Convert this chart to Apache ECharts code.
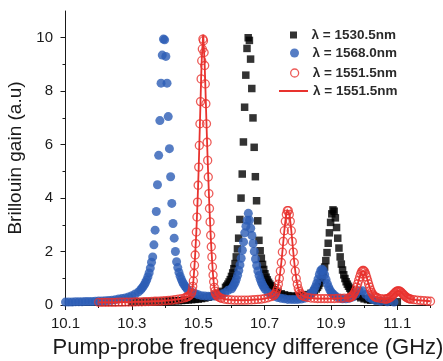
<!DOCTYPE html>
<html>
<head>
<meta charset="utf-8">
<script src="https://cdn.jsdelivr.net/npm/echarts@6/dist/echarts.min.js"></script>
<style>
html,body{margin:0;padding:0;background:#fff;}
#c{width:443px;height:361px;}
</style>
</head>
<body>
<div id="c"></div>
<script>
// ---------- data ----------
const xTicks = [10.1, 10.3, 10.5, 10.7, 10.9, 11.1];
const xMinorTicks = [10.2, 10.4, 10.6, 10.8, 11.0, 11.2];
const yTicks = [0, 2, 4, 6, 8, 10];
const yMinorTicks = [1, 3, 5, 7, 9];

const seriesNames = ['λ = 1530.5nm', 'λ = 1568.0nm', 'λ = 1551.5nm', 'λ = 1551.5nm '];

// λ = 1530.5 nm (black squares)
const blackX = [10.30, 10.32, 10.34, 10.36, 10.38, 10.40, 10.41, 10.42, 10.43, 10.44, 10.45, 10.46, 10.47, 10.48, 10.49, 10.50, 10.51, 10.52, 10.53, 10.54, 10.55, 10.56, 10.57,
 10.5822, 10.5858, 10.5894, 10.5930, 10.5966, 10.6002, 10.6038, 10.6074, 10.6110, 10.6146, 10.6182, 10.6218, 10.6254, 10.6290, 10.6326, 10.6362, 10.6398, 10.6434, 10.6470, 10.6506,
 10.6542, 10.6578, 10.6614, 10.6650, 10.6686, 10.6722, 10.6758, 10.6794, 10.6830, 10.6866, 10.6902, 10.6938, 10.6974, 10.7010, 10.7046, 10.7082, 10.7118, 10.7154, 10.7190, 10.7226,
 10.73, 10.74, 10.75, 10.76, 10.77, 10.78, 10.79, 10.80, 10.81, 10.82, 10.83, 10.84, 10.85,
 10.8557, 10.8593, 10.8629, 10.8665, 10.8701, 10.8737, 10.8773, 10.8809, 10.8845, 10.8881, 10.8917, 10.8953, 10.8989, 10.9025, 10.9061,
 10.9097, 10.9133, 10.9169, 10.9205, 10.9241, 10.9277, 10.9313, 10.9349, 10.9385, 10.9421, 10.9457, 10.9493, 10.9529, 10.9565, 10.9601,
 10.97, 10.98, 10.99, 11.00, 11.01, 11.02, 11.04, 11.06, 11.08, 11.10];
const blackY = [0.12, 0.12, 0.13, 0.13, 0.14, 0.14, 0.15, 0.15, 0.16, 0.16, 0.17, 0.18, 0.19, 0.20, 0.21, 0.22, 0.24, 0.26, 0.29, 0.32, 0.37, 0.43, 0.51,
 0.66, 0.71, 0.78, 0.86, 0.95, 1.07, 1.20, 1.36, 1.55, 1.80, 2.10, 2.50, 3.20, 4.00, 4.90, 6.10, 7.40, 8.60, 9.60, 10.00,
 9.90, 9.20, 8.10, 7.00, 5.90, 4.80, 3.90, 3.15, 2.42, 2.03, 1.75, 1.52, 1.33, 1.17, 1.04, 0.94, 0.85, 0.78, 0.72, 0.67,
 0.57, 0.48, 0.42, 0.38, 0.35, 0.33, 0.33, 0.33, 0.33, 0.35, 0.39, 0.44, 0.53,
 0.60, 0.66, 0.73, 0.82, 0.93, 1.06, 1.22, 1.42, 1.66, 1.96, 2.31, 2.70, 3.09, 3.41, 3.56,
 3.51, 3.26, 2.90, 2.50, 2.13, 1.80, 1.53, 1.31, 1.13, 0.99, 0.87, 0.78, 0.70, 0.63, 0.57,
 0.39, 0.32, 0.27, 0.23, 0.20, 0.18, 0.16, 0.14, 0.125, 0.12];

// λ = 1568.0 nm (blue dots)
const blueX = [10.10, 10.11, 10.12, 10.13, 10.14, 10.15, 10.16, 10.17, 10.18, 10.19, 10.20, 10.21, 10.22, 10.23, 10.24, 10.25, 10.26, 10.27, 10.28, 10.29, 10.30, 10.31, 10.32,
 10.3268, 10.3304, 10.3340, 10.3376, 10.3412, 10.3448, 10.3484, 10.3520, 10.3556, 10.3592, 10.3628, 10.3664, 10.3700, 10.3736, 10.3772, 10.3808, 10.3844, 10.3880, 10.3916, 10.3952,
 10.3988, 10.4024, 10.4060, 10.4096, 10.4132, 10.4168, 10.4204, 10.4240, 10.4276, 10.4312, 10.4348, 10.4384, 10.4420, 10.4456, 10.4492, 10.4528, 10.4564, 10.4600, 10.4636, 10.4672,
 10.48, 10.49, 10.50, 10.51, 10.52, 10.53, 10.54, 10.55, 10.56, 10.57, 10.58, 10.59,
 10.6006, 10.6042, 10.6078, 10.6114, 10.6150, 10.6186, 10.6222, 10.6258, 10.6294, 10.6330, 10.6366, 10.6402, 10.6438, 10.6474, 10.6510,
 10.6546, 10.6582, 10.6618, 10.6654, 10.6690, 10.6726, 10.6762, 10.6798, 10.6834, 10.6870, 10.6906, 10.6942, 10.6978, 10.7014,
 10.71, 10.72, 10.73, 10.74, 10.75, 10.76, 10.77, 10.78, 10.79, 10.80, 10.81, 10.82,
 10.833, 10.837, 10.841, 10.845, 10.849, 10.853, 10.857, 10.861, 10.865, 10.869, 10.873,
 10.877, 10.881, 10.885, 10.889, 10.893, 10.897, 10.901, 10.905, 10.909, 10.913,
 10.925, 10.935, 10.945, 10.955, 10.965, 10.975, 10.985, 10.995, 11.005, 11.015, 11.025, 11.035, 11.05, 11.07, 11.09];
const blueY = [0.11, 0.11, 0.11, 0.12, 0.12, 0.12, 0.13, 0.13, 0.13, 0.14, 0.15, 0.15, 0.16, 0.17, 0.18, 0.20, 0.22, 0.24, 0.26, 0.30, 0.35, 0.41, 0.49,
 0.57, 0.63, 0.69, 0.76, 0.84, 0.94, 1.06, 1.20, 1.38, 1.60, 1.80, 2.25, 2.80, 3.50, 4.50, 5.60, 6.90, 8.30, 9.35, 9.95,
 9.92, 9.30, 8.30, 7.05, 5.85, 4.80, 3.80, 3.05, 2.50, 2.00, 1.62, 1.40, 1.22, 1.08, 0.96, 0.86, 0.78, 0.71, 0.65, 0.59,
 0.49, 0.43, 0.38, 0.35, 0.34, 0.33, 0.33, 0.34, 0.36, 0.40, 0.46, 0.55,
 0.61, 0.68, 0.76, 0.85, 0.97, 1.11, 1.29, 1.50, 1.75, 2.05, 2.36, 2.70, 2.95, 3.17, 3.43,
 3.17, 2.87, 2.60, 2.30, 2.00, 1.72, 1.48, 1.27, 1.10, 0.96, 0.84, 0.75, 0.67, 0.60,
 0.47, 0.39, 0.33, 0.28, 0.25, 0.23, 0.21, 0.21, 0.205, 0.21, 0.22, 0.25,
 0.34, 0.38, 0.43, 0.49, 0.57, 0.68, 0.81, 0.97, 1.14, 1.28, 1.34,
 1.28, 1.13, 0.96, 0.80, 0.67, 0.56, 0.48, 0.42, 0.37, 0.34,
 0.26, 0.23, 0.23, 0.25, 0.30, 0.41, 0.53, 0.53, 0.39, 0.275, 0.21, 0.17, 0.14, 0.12, 0.11];

// λ = 1551.5 nm (red open circles, also traced by the red line)
const redX = [10.20, 10.21, 10.22, 10.23, 10.24, 10.25, 10.26, 10.27, 10.28, 10.29, 10.30, 10.31, 10.32, 10.33, 10.34, 10.35, 10.36, 10.37, 10.38, 10.39, 10.40, 10.41, 10.42, 10.43, 10.44, 10.45, 10.46,
 10.464, 10.468, 10.472, 10.476,
 10.4799, 10.4817, 10.4835, 10.4853, 10.4871, 10.4889, 10.4907, 10.4925, 10.4943, 10.4961, 10.4979, 10.4997, 10.5015, 10.5033, 10.5051, 10.5069, 10.5087, 10.5105, 10.5123, 10.5141,
 10.5159, 10.5177, 10.5195, 10.5213, 10.5231, 10.5249, 10.5267, 10.5285, 10.5303, 10.5321, 10.5339, 10.5357, 10.5375, 10.5393, 10.5411, 10.5429, 10.5447, 10.5465, 10.5483, 10.5501, 10.5519,
 10.555, 10.558, 10.562, 10.566, 10.57, 10.58, 10.59, 10.60, 10.61, 10.62, 10.63, 10.64, 10.65, 10.66, 10.67, 10.68, 10.69, 10.70, 10.71, 10.72,
 10.7265, 10.7295, 10.7325, 10.7355, 10.7385, 10.7415, 10.7445, 10.7475, 10.7505, 10.7535, 10.7565, 10.7595, 10.7625, 10.7655, 10.7685,
 10.7715, 10.7745, 10.7775, 10.7805, 10.7835, 10.7865, 10.7895, 10.7925, 10.7955, 10.7985, 10.8015, 10.8045, 10.8075, 10.8105, 10.8135,
 10.82, 10.83, 10.84, 10.85, 10.86, 10.87, 10.88, 10.89, 10.90, 10.91, 10.92, 10.93, 10.94,
 10.9535, 10.9565, 10.9595, 10.9625, 10.9655, 10.9685, 10.9715, 10.9745, 10.9775, 10.9805, 10.9835, 10.9865, 10.9895, 10.9925, 10.9955,
 10.9985, 11.0015, 11.0045, 11.0075, 11.0105, 11.0135, 11.0165, 11.0195, 11.0225, 11.0255, 11.0285, 11.0315, 11.0345, 11.0375, 11.0405,
 11.05, 11.06,
 11.0655, 11.0685, 11.0715, 11.0745, 11.0775, 11.0805, 11.0835, 11.0865, 11.0895, 11.0925, 11.0955, 11.0985, 11.1015,
 11.1045, 11.1075, 11.1105, 11.1135, 11.1165, 11.1195, 11.1225, 11.1255, 11.1285, 11.1315, 11.1345, 11.1375, 11.1405,
 11.15, 11.16, 11.17, 11.18, 11.19, 11.20];
const redY = [0.10, 0.10, 0.10, 0.10, 0.10, 0.10, 0.105, 0.105, 0.11, 0.11, 0.11, 0.115, 0.12, 0.12, 0.125, 0.13, 0.135, 0.14, 0.145, 0.15, 0.16, 0.17, 0.18, 0.20, 0.22, 0.24, 0.27,
 0.29, 0.31, 0.34, 0.39,
 0.45, 0.55, 0.70, 0.90, 1.18, 1.49, 1.87, 2.30, 2.73, 3.29, 3.85, 4.48, 5.16, 5.97, 6.78, 7.61, 8.46, 9.14, 9.58, 9.95,
 9.89, 9.45, 8.96, 8.27, 7.53, 6.78, 6.09, 5.41, 4.79, 4.17, 3.61, 3.11, 2.61, 2.18, 1.80, 1.43, 1.12, 0.87, 0.66, 0.52, 0.42,
 0.37, 0.33, 0.30, 0.27, 0.25, 0.22, 0.20, 0.19, 0.18, 0.18, 0.18, 0.18, 0.185, 0.19, 0.20, 0.21, 0.22, 0.24, 0.27, 0.31,
 0.35, 0.38, 0.43, 0.51, 0.62, 0.78, 0.99, 1.27, 1.59, 1.98, 2.38, 2.78, 3.13, 3.39, 3.53,
 3.53, 3.39, 3.13, 2.78, 2.38, 1.98, 1.59, 1.27, 0.99, 0.78, 0.62, 0.51, 0.43, 0.38, 0.35,
 0.31, 0.28, 0.26, 0.25, 0.24, 0.24, 0.24, 0.24, 0.24, 0.24, 0.25, 0.25, 0.26,
 0.27, 0.28, 0.295, 0.32, 0.36, 0.41, 0.475, 0.56, 0.67, 0.79, 0.92, 1.05, 1.165, 1.25, 1.29,
 1.29, 1.25, 1.165, 1.05, 0.92, 0.79, 0.67, 0.56, 0.475, 0.41, 0.36, 0.32, 0.295, 0.28, 0.27,
 0.24, 0.225,
 0.22, 0.23, 0.24, 0.255, 0.28, 0.305, 0.34, 0.375, 0.415, 0.45, 0.49, 0.515, 0.53,
 0.53, 0.515, 0.49, 0.45, 0.415, 0.375, 0.34, 0.305, 0.28, 0.255, 0.24, 0.23, 0.22,
 0.20, 0.185, 0.17, 0.16, 0.15, 0.14];
// apex of the red line, above the highest circles
const redLinePeakX = 10.515;
const redLinePeakY = 10.12;

// ---------- build ----------
const zip = (xs, ys) => xs.map((x, i) => [x, ys[i]]);
const blackData = zip(blackX, blackY);
const blueData = zip(blueX, blueY);
const redData = zip(redX, redY);
const redLineData = redData.concat([[redLinePeakX, redLinePeakY]]).sort((a, b) => a[0] - b[0]);

const FONT = '"Liberation Sans", Arial, Helvetica, sans-serif';
const INK = '#1a1a1a';
const BLUE = '#2c5cb5';
const RED = '#e8322e';

const chart = echarts.init(document.getElementById('c'), null, {renderer: 'canvas'});
const legendCommon = {
  orient: 'vertical', padding: 0, selectedMode: false,
  textStyle: {fontFamily: FONT, fontSize: 13.5, fontWeight: 'bold', color: '#2a2a2a'}
};
const SQ = 'path://M0,0L10,0L10,10L0,10Z';
chart.setOption({
  animation: false,
  backgroundColor: '#fff',
  textStyle: {fontFamily: FONT},
  grid: {left: 65.5, right: 12.5, top: 11, bottom: 56, containLabel: false, outerBoundsMode: 'none'},
  legend: [
    Object.assign({}, legendCommon, {left: 290, top: 28, itemWidth: 26, itemHeight: 7,
      data: [{name: seriesNames[0], icon: SQ, itemStyle: {color: '#000'}}]}),
    Object.assign({}, legendCommon, {left: 290, top: 46, itemWidth: 26, itemHeight: 9,
      data: [{name: seriesNames[1], icon: 'circle', itemStyle: {color: BLUE}}]}),
    Object.assign({}, legendCommon, {left: 290, top: 66, itemWidth: 26, itemHeight: 8,
      data: [{name: seriesNames[2], icon: 'circle', itemStyle: {color: '#fff', borderColor: RED, borderWidth: 1.3}}]}),
    Object.assign({}, legendCommon, {left: 279, top: 84, itemWidth: 29, itemHeight: 2, symbolKeepAspect: false,
      data: [{name: seriesNames[3], icon: SQ, itemStyle: {color: RED}}]})
  ],
  xAxis: [{
    type: 'value', min: 10.1, max: 11.2,
    name: 'Pump-probe frequency difference (GHz)', nameLocation: 'middle', nameGap: 32,
    nameTextStyle: {fontFamily: FONT, fontSize: 22, color: INK},
    axisLine: {show: true, lineStyle: {color: INK, width: 1}},
    axisTick: {show: true, inside: false, length: 5, customValues: xTicks, lineStyle: {color: INK}},
    axisLabel: {customValues: xTicks, fontSize: 15, color: INK, margin: 11, fontFamily: FONT,
      formatter: v => v.toFixed(1)},
    splitLine: {show: false}
  }, {
    type: 'value', min: 10.1, max: 11.2, position: 'bottom',
    axisLine: {show: false},
    axisTick: {show: true, length: 3, customValues: xMinorTicks, lineStyle: {color: INK}},
    axisLabel: {show: false}, splitLine: {show: false}
  }],
  yAxis: [{
    type: 'value', min: 0, max: 11,
    name: 'Brillouin gain (a.u)', nameLocation: 'middle', nameGap: 26,
    nameTextStyle: {fontFamily: FONT, fontSize: 19, color: INK},
    axisLine: {show: true, lineStyle: {color: INK, width: 1}},
    axisTick: {show: true, length: 5, customValues: yTicks, lineStyle: {color: INK}},
    axisLabel: {customValues: yTicks, fontSize: 15, color: INK, margin: 12.5, fontFamily: FONT},
    splitLine: {show: false}
  }, {
    type: 'value', min: 0, max: 11, position: 'left',
    axisLine: {show: false},
    axisTick: {show: true, length: 3, customValues: yMinorTicks, lineStyle: {color: INK}},
    axisLabel: {show: false}, splitLine: {show: false}
  }],
  series: [
    {name: seriesNames[0], type: 'scatter', data: blackData, symbol: 'rect', symbolSize: 7.5,
      itemStyle: {color: '#000'}, xAxisIndex: 0, yAxisIndex: 0},
    {name: seriesNames[1], type: 'scatter', data: blueData, symbol: 'circle', symbolSize: 9,
      itemStyle: {color: BLUE}, xAxisIndex: 0, yAxisIndex: 0},
    {name: seriesNames[2], type: 'scatter', data: redData, symbol: 'circle', symbolSize: 8,
      itemStyle: {color: 'rgba(255,255,255,0)', borderColor: RED, borderWidth: 1.3}, xAxisIndex: 0, yAxisIndex: 0},
    {name: seriesNames[3], type: 'line', data: redLineData, symbol: 'none', smooth: false,
      lineStyle: {color: RED, width: 1.8, join: 'miter'}, itemStyle: {color: RED}, xAxisIndex: 0, yAxisIndex: 0}
  ]
});
</script>
</body>
</html>
